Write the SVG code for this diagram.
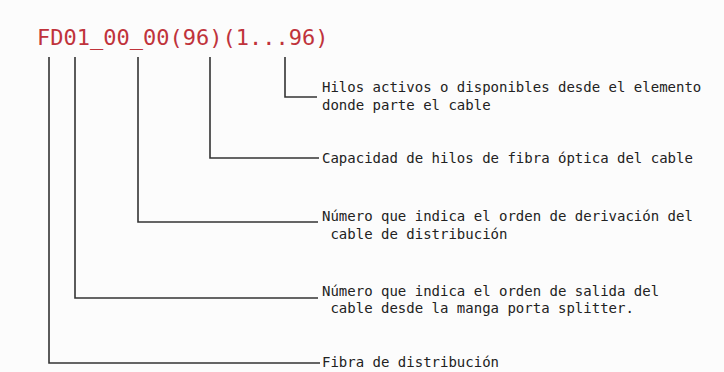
<svg xmlns="http://www.w3.org/2000/svg" width="724" height="372" viewBox="0 0 724 372">
<style>
.bg{fill:#fcfcfc}
.code{font-family:"DejaVu Sans Mono","Liberation Mono",monospace;font-size:22px;fill:#c0333b}
.lbl{font-family:"DejaVu Sans Mono","Liberation Mono",monospace;font-size:14px;fill:#222}
.ln{fill:none;stroke:#333;stroke-width:1.6}
</style>
<rect class="bg" x="0" y="0" width="724" height="372"/>
<g id="code"><text class="code" x="37" y="45">FD01_00_00(96)(1...96)</text></g>
<g id="connectors">
<polyline class="ln" points="285,57 285,97 317,97"/>
<polyline class="ln" points="210,57 210,158 319,158"/>
<polyline class="ln" points="138,57 138,222 318,222"/>
<polyline class="ln" points="75,57 75,298 318,298"/>
<polyline class="ln" points="49,57 49,363 320,363"/>
</g>
<g id="n-hilos"><text class="lbl" x="322" y="92">Hilos activos o disponibles desde el elemento</text><text class="lbl" x="322" y="110">donde parte el cable</text></g>
<g id="n-capacidad"><text class="lbl" x="322" y="163">Capacidad de hilos de fibra óptica del cable</text></g>
<g id="n-derivacion"><text class="lbl" x="322" y="221">Número que indica el orden de derivación del</text><text class="lbl" x="322" y="239" xml:space="preserve"> cable de distribución</text></g>
<g id="n-salida"><text class="lbl" x="322" y="296">Número que indica el orden de salida del</text><text class="lbl" x="322" y="313" xml:space="preserve"> cable desde la manga porta splitter.</text></g>
<g id="n-fibra"><text class="lbl" x="322" y="367">Fibra de distribución</text></g>
</svg>
